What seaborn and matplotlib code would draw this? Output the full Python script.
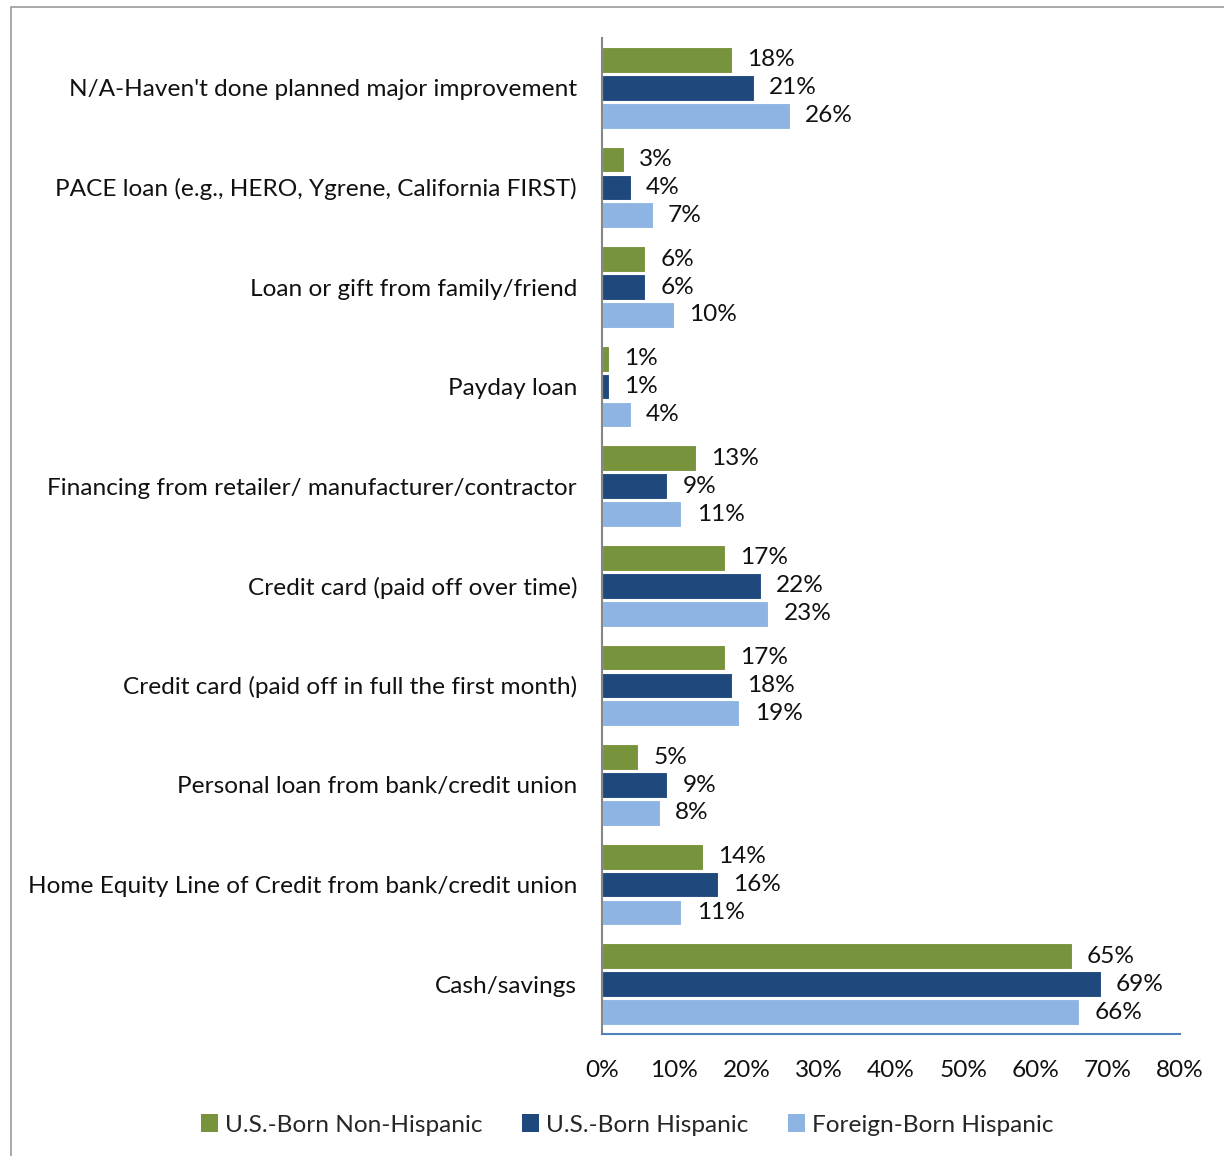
import matplotlib
matplotlib.use("Agg")
import matplotlib.pyplot as plt
from matplotlib.patches import Rectangle, Patch
import pandas as pd
import seaborn as sns

categories = [
    "N/A-Haven't done planned major improvement",
    "PACE loan (e.g., HERO, Ygrene, California FIRST)",
    "Loan or gift from family/friend",
    "Payday loan",
    "Financing from retailer/ manufacturer/contractor",
    "Credit card (paid off over time)",
    "Credit card (paid off in full the first month)",
    "Personal loan from bank/credit union",
    "Home Equity Line of Credit from bank/credit union",
    "Cash/savings",
]
series_names = ["U.S.-Born Non-Hispanic", "U.S.-Born Hispanic", "Foreign-Born Hispanic"]
us_born_non_hispanic = [18, 3, 6, 1, 13, 17, 17, 5, 14, 65]
us_born_hispanic = [21, 4, 6, 1, 9, 22, 18, 9, 16, 69]
foreign_born_hispanic = [26, 7, 10, 4, 11, 23, 19, 8, 11, 66]
x_ticks = [0, 10, 20, 30, 40, 50, 60, 70, 80]

colors = ["#77933C", "#1F497D", "#8EB4E3"]

rows = []
for name, vals in zip(series_names, [us_born_non_hispanic, us_born_hispanic, foreign_born_hispanic]):
    for cat, v in zip(categories, vals):
        rows.append({"category": cat, "group": name, "value": v})
df = pd.DataFrame(rows)

sns.set_theme(style="white")
plt.rcParams["font.family"] = ["Lato", "DejaVu Sans"]
FS = 17.6

fig = plt.figure(figsize=(12.24, 11.56), dpi=100)
ax = fig.add_axes([602 / 1224, 1 - 1034 / 1156, 578 / 1224, 996 / 1156])

sns.barplot(
    data=df, y="category", x="value", hue="group", order=categories,
    hue_order=series_names, palette=colors, orient="h",
    width=0.84, gap=0.08, ax=ax, legend=False,
    edgecolor="white", linewidth=0.8, saturation=1,
)

for container in ax.containers:
    ax.bar_label(container, labels=[f"{v:.0f}%" for v in container.datavalues],
                 padding=11, fontsize=FS, color="#111111")

ax.set_xlim(0, 80)
ax.set_ylim(9.5, -0.5)
ax.set_xticks(x_ticks)
ax.set_xticklabels([f"{t}%" for t in x_ticks], fontsize=FS, color="#111111")
ax.tick_params(axis="x", length=0, pad=19)
ax.tick_params(axis="y", length=0, pad=18, labelsize=FS, labelcolor="#111111")
ax.set_xlabel("")
ax.set_ylabel("")

for side in ["top", "right"]:
    ax.spines[side].set_visible(False)
ax.spines["left"].set_color("#868686")
ax.spines["left"].set_linewidth(1.5)
ax.spines["bottom"].set_color("#4F81BD")
ax.spines["bottom"].set_linewidth(1.5)

handles = [Patch(facecolor=c, edgecolor="none") for c in colors]
fig.legend(handles, series_names, loc="center", ncol=3,
           bbox_to_anchor=(627 / 1224, 1 - 1125 / 1156), frameon=False,
           fontsize=FS, handlelength=0.7, handleheight=0.7,
           handletextpad=0.3, columnspacing=1.6)

fig.patches.append(Rectangle((11 / 1224, -0.05), 1.2, 1 - 7 / 1156 + 0.05,
                             transform=fig.transFigure, fill=False,
                             edgecolor="#9a9a9a", linewidth=1.2))

fig.savefig("out.png", dpi=100)
